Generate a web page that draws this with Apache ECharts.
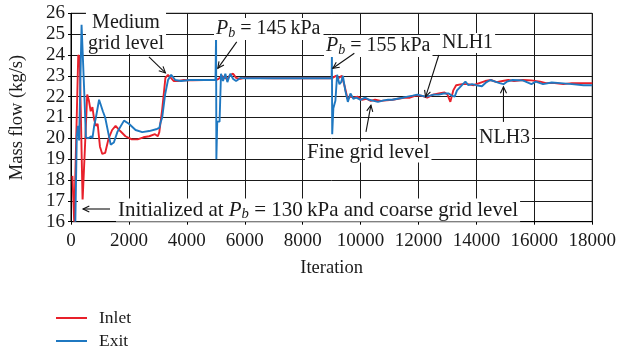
<!DOCTYPE html>
<html><head><meta charset="utf-8">
<script src="https://cdn.jsdelivr.net/npm/echarts@6/dist/echarts.min.js"></script>
<style>html,body{margin:0;padding:0;background:#fff}#c{width:619px;height:353px}</style>
</head><body><div id="c"></div>
<script>
// ---- data (iteration, mass flow kg/s) ----
const inletIter = [50,110,250,300,400,480,560,620,680,740,800,860,920,1000,1080,1180,1300,1420,1540,1700,1880,2100,2300,2500,2700,2900,3000,3050,3150,3260,3350,3450,3550,3700,3900,4200,4600,5000,5100,5200,5300,5400,5500,5600,5700,5850,6000,7000,8000,9000,9050,9150,9250,9350,9450,9550,9650,9750,9900,10050,10200,10350,10500,10700,10900,11100,11300,11500,11700,11900,12100,12300,12500,12700,12900,13000,13100,13200,13300,13500,13700,13900,14100,14300,14500,14700,14900,15100,15300,15600,15900,16200,16400,16700,17000,17300,17600,18000];
const inletFlow = [18.2,16.0,24.0,23.9,17.0,19.5,22.1,21.8,21.3,21.5,20.9,20.6,20.7,19.6,19.25,19.3,20.0,20.4,20.6,20.35,20.1,19.95,19.95,20.05,20.1,20.2,20.1,20.3,21.4,22.9,23.05,22.9,22.75,22.75,22.8,22.78,22.8,22.8,22.85,23.0,22.9,22.85,23.05,23.1,22.9,22.85,22.9,22.88,22.88,22.88,22.9,23.0,22.9,23.0,22.5,21.9,22.0,21.95,22.0,21.85,21.9,21.8,21.85,21.8,21.82,21.85,21.9,21.95,21.95,22.05,22.05,21.95,22.1,22.15,22.2,22.1,21.75,22.3,22.55,22.6,22.6,22.55,22.65,22.75,22.8,22.7,22.75,22.8,22.75,22.8,22.78,22.72,22.65,22.65,22.6,22.65,22.65,22.65];
const exitIter = [150,200,240,280,365,450,515,600,700,740,800,860,970,1030,1100,1180,1370,1480,1600,1830,2000,2230,2460,2700,2970,3050,3090,3150,3250,3350,3460,3600,3800,4100,4500,4990,5010,5020,5050,5130,5180,5250,5330,5400,5500,5600,5700,5850,6000,7000,8000,9000,9010,9020,9060,9130,9190,9270,9330,9390,9470,9560,9650,9750,9850,10000,10150,10300,10450,10600,10800,10950,11100,11270,11450,11620,11800,11960,12100,12245,12400,12530,12700,12870,13045,13150,13250,13330,13500,13620,13720,13850,14000,14190,14350,14480,14650,14800,14935,15050,15250,15600,15900,16050,16300,16600,16900,17300,17700,18000];
const exitFlow = [16.0,20.1,20.6,19.9,25.45,22.5,20.05,20.0,20.1,20.0,20.6,21.0,21.85,21.6,21.3,21.0,19.7,19.8,20.3,20.85,20.7,20.4,20.3,20.35,20.45,20.5,20.75,21.0,22.1,22.8,23.05,22.8,22.75,22.8,22.8,22.8,25.1,19.0,20.8,20.8,23.1,22.75,23.1,22.7,23.1,22.85,22.75,22.9,22.88,22.88,22.88,22.88,24.1,20.2,21.45,21.8,23.05,22.6,22.7,23.0,22.3,21.75,22.15,21.9,21.95,21.85,21.95,21.85,21.8,21.75,21.82,21.85,21.85,21.9,21.95,22.0,22.05,22.1,22.05,22.0,22.05,22.1,22.1,22.15,22.15,22.05,22.0,22.3,22.55,22.72,22.55,22.6,22.55,22.5,22.7,22.8,22.72,22.65,22.6,22.72,22.8,22.78,22.6,22.72,22.6,22.68,22.65,22.6,22.55,22.55];
const xTicks = [0,2000,4000,6000,8000,10000,12000,14000,16000,18000];
const yTicks = [16,17,18,19,20,21,22,23,24,25,26];
const seriesNames = ['Inlet','Exit'];

const FONT = '"Liberation Serif", "DejaVu Serif", serif';
const RED = '#e8202a', BLUE = '#1f78c1';
const zip = (a,b) => a.map((v,i)=>[v,b[i]]);

const chart = echarts.init(document.getElementById('c'), null, {renderer:'canvas'});
const legendCommon = {orient:'vertical', left:56, padding:0, itemWidth:31, itemHeight:2, icon:'rect',
  textStyle:{fontFamily:FONT, fontSize:17.5, color:'#1a1a1a', padding:[0,0,0,7]}};
const axisBase = {
  axisLine:{show:true, lineStyle:{color:'#000', width:1}},
  axisTick:{show:true, inside:false, length:3, lineStyle:{color:'#000'}},
  splitLine:{show:true, lineStyle:{color:'#1a1a1a', width:1}},
  nameTextStyle:{color:'#1a1a1a', fontFamily:FONT, fontSize:18.5}
};
chart.setOption({
  animation:false,
  backgroundColor:'#fff',
  textStyle:{fontFamily:FONT},
  grid:{left:68.3, right:26.3, top:13.3, bottom:131.3, show:true, borderColor:'#000', borderWidth:1},
  xAxis:Object.assign({type:'value', min:xTicks[0], max:xTicks[xTicks.length-1], interval:2000,
    name:'Iteration', nameLocation:'middle', nameGap:37,
    axisLabel:{show:true, color:'#1a1a1a', fontFamily:FONT, fontSize:19, margin:10,
      formatter:function(v){ return String(v); }}}, axisBase),
  yAxis:Object.assign({type:'value', min:yTicks[0], max:yTicks[yTicks.length-1], interval:1,
    name:'Mass flow (kg/s)', nameLocation:'middle', nameGap:44,
    axisLabel:{show:true, color:'#1a1a1a', fontFamily:FONT, fontSize:19, margin:6,
      formatter:function(v){ return String(v); }}}, axisBase),
  legend:[
    Object.assign({}, legendCommon, {top:309, data:[seriesNames[0]]}),
    Object.assign({}, legendCommon, {top:332, data:[seriesNames[1]]})
  ],
  series:[
    {name:seriesNames[0], type:'line', data:zip(inletIter,inletFlow), symbol:'none', smooth:false,
     lineStyle:{color:RED, width:1.9}, itemStyle:{color:RED}, z:2},
    {name:seriesNames[1], type:'line', data:zip(exitIter,exitFlow), symbol:'none', smooth:false,
     lineStyle:{color:BLUE, width:1.9}, itemStyle:{color:BLUE}, z:3}
  ]
});

// ---- annotations ----
function px(pt){ return chart.convertToPixel({gridIndex:0}, pt); }
const g = [];
function arrowPx(a, b){
  const ang = Math.atan2(b[1]-a[1], b[0]-a[0]);
  const L = 7, w = 0.45;
  const h1 = [b[0]-L*Math.cos(ang-w), b[1]-L*Math.sin(ang-w)];
  const h2 = [b[0]-L*Math.cos(ang+w), b[1]-L*Math.sin(ang+w)];
  return [
    {type:'line', shape:{x1:a[0],y1:a[1],x2:b[0],y2:b[1]}, style:{stroke:'#111', lineWidth:1.1}, z:40},
    {type:'polyline', shape:{points:[h1,b,h2]}, style:{stroke:'#111', lineWidth:1.1, fill:null}, z:40}
  ];
}
function arrow(from, to){ return arrowPx(px(from), px(to)); }
function mkRich(fs){
  return {
    i:{fontFamily:FONT, fontStyle:'italic', fontSize:fs, fill:'#1a1a1a'},
    s:{fontFamily:FONT, fontStyle:'italic', fontSize:fs*0.7, fill:'#1a1a1a', padding:[8,0,0,0]},
    n:{fontFamily:FONT, fontSize:fs, fill:'#1a1a1a'}
  };
}
function label(x, y, text, fs, opts){
  return {type:'text', x:x, y:y, z:30,
    style:Object.assign({text:text, fontFamily:FONT, fontSize:fs, fill:'#1a1a1a',
      backgroundColor:'#fff', padding:[0,2,0,2], verticalAlign:'middle', align:'left', rich:mkRich(fs)}, opts||{})};
}
g.push(label(126, 33, 'Medium\ngrid level', 20, {align:'center', lineHeight:21}));
g.push(label(214, 29, '{i|P}{s|b}{n| = 145\u2009kPa}', 20, {padding:[0,3,0,2]}));
g.push(label(324, 46, '{i|P}{s|b}{n| = 155\u2009kPa}', 20));
g.push(label(440, 43, 'NLH1', 20));
g.push(label(305, 152, 'Fine grid level', 21));
g.push(label(477, 138, 'NLH3', 20));
g.push(label(78, 210, '          ', 21, {padding:[0,0,0,0]}));
g.push(label(116, 210, 'Initialized at {i|P}{s|b}{n| = 130\u2009kPa and coarse grid level}', 21, {padding:[0,2,0,2]}));
arrowPx([110,209], [83,209]).forEach(e => g.push(e));
[
  [[2692,23.91],[3261,23.14]],
  [[5723,24.63],[5070,23.36]],
  [[9784,24.08],[9042,23.36]],
  [[12702,24.0],[12245,21.99]],
  [[10186,20.31],[10357,21.59]],
  [[14934,20.79],[14934,22.47]]
].forEach(p => arrow(p[0], p[1]).forEach(e => g.push(e)));
chart.setOption({graphic:g});
</script></body></html>
